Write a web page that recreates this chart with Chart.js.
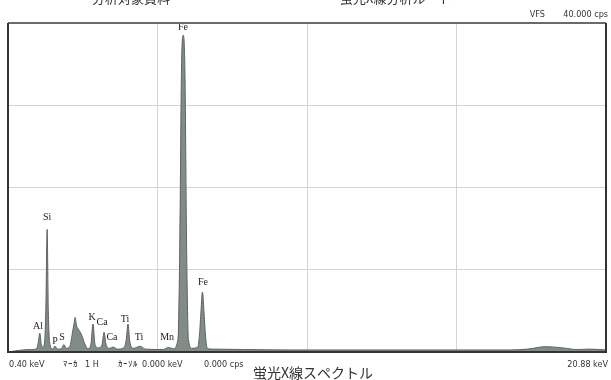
<!DOCTYPE html>
<html>
<head>
<meta charset="utf-8">
<script src="https://cdn.jsdelivr.net/npm/chart.js@4.4.1/dist/chart.umd.min.js"></script>
<style>
    body { margin: 0; background: #ffffff; }
    #spectrum { display: block; }
</style>
</head>
<body>
<canvas id="spectrum" width="611" height="380"></canvas>
<script>
// Spectrum points (energy in keV, intensity in cps)
const energyKev = [
    0.40, 0.90, 1.20, 1.38, 1.44, 1.49, 1.54, 1.60, 1.66, 1.70, 1.74, 1.78, 1.84, 1.92,
    2.01, 2.10, 2.24, 2.31, 2.40, 2.52, 2.60, 2.66, 2.70, 2.74, 2.80, 2.86, 2.94, 3.04, 3.14,
    3.24, 3.31, 3.38, 3.50, 3.62, 3.69, 3.76, 3.88, 4.01, 4.14, 4.36, 4.45, 4.51, 4.57, 4.70,
    4.93, 5.10, 5.70, 5.90, 6.05, 6.22, 6.28, 6.34, 6.40, 6.46, 6.52, 6.58, 6.70, 6.90, 6.96,
    7.01, 7.06, 7.11, 7.16, 7.22, 7.40, 8.50, 10.0, 12.0, 14.0, 16.0, 17.6, 18.2, 18.8, 19.4,
    19.9, 20.3, 20.88
];
const intensityCps = [
    0, 250, 300, 400, 1200, 2300, 900, 600, 1500, 6000, 14900, 5000, 900, 350,
    700, 350, 450, 900, 450, 700, 2200, 3400, 4200, 3300, 2800, 2500, 1900, 900, 400,
    900, 3400, 900, 500, 900, 2400, 900, 450, 600, 350, 500, 1500, 3400, 1300, 450,
    700, 350, 300, 550, 400, 1500, 12000, 34000, 38500, 34000, 12000, 1500, 450, 600, 2200,
    5000, 7300, 5000, 2200, 500, 350, 300, 250, 250, 250, 250, 250, 350, 650, 500,
    300, 350, 250
];

// Element labels and where they sit (text bottom)
const peakNames = ['Fe', 'Si', 'Al', 'P', 'S', 'K', 'Ca', 'Ca', 'Ti', 'Ti', 'Mn', 'Fe'];
const peakKev = [6.39, 1.74, 1.43, 2.01, 2.25, 3.28, 3.62, 3.96, 4.41, 4.89, 5.85, 7.08];
const peakCps = [38900, 15760, 2550, 730, 1210, 3640, 3030, 1210, 3390, 1210, 1210, 7880];

// Axis grid values
const kevTicks = [0.40, 5.52, 10.64, 15.76, 20.88];
const cpsTicks = [0, 10000, 20000, 30000, 40000];

const frameAndText = {
    id: 'frameAndText',
    afterDatasetsDraw(chart) {
        const ctx = chart.ctx;
        const area = chart.chartArea;
        const xs = chart.scales.x;
        const ys = chart.scales.y;

        ctx.save();
        // peak labels
        ctx.fillStyle = '#222222';
        ctx.font = '10px "Liberation Serif", serif';
        ctx.textAlign = 'center';
        ctx.textBaseline = 'bottom';
        peakNames.forEach((name, i) => {
            ctx.fillText(name, xs.getPixelForValue(peakKev[i]), ys.getPixelForValue(peakCps[i]));
        });

        // frame
        ctx.strokeStyle = '#6a6a6a';
        ctx.lineWidth = 2;
        ctx.beginPath();
        ctx.moveTo(area.left, area.top);
        ctx.lineTo(area.right, area.top);
        ctx.stroke();
        ctx.strokeStyle = '#333333';
        ctx.beginPath();
        ctx.moveTo(area.left, area.top);
        ctx.lineTo(area.left, area.bottom);
        ctx.lineTo(area.right, area.bottom);
        ctx.lineTo(area.right, area.top);
        ctx.stroke();

        // header texts (cut off by the page edge)
        ctx.fillStyle = '#333333';
        ctx.textBaseline = 'alphabetic';
        ctx.font = '13px "Noto Sans CJK JP", sans-serif';
        ctx.textAlign = 'left';
        ctx.fillText('分析対象資料', 92, 3);
        ctx.fillText('蛍光X線分析ルート', 340, 3);

        ctx.font = '9px "Liberation Sans Narrow", "DejaVu Sans Condensed", sans-serif';
        ctx.textAlign = 'right';
        ctx.fillText('VFS', 545, 17);
        ctx.fillText('40.000 cps', 608, 17);

        // bottom info line
        const by = area.bottom + 15;
        ctx.textAlign = 'left';
        ctx.fillText('0.40 keV', 9, by);
        ctx.fillText('ﾏｰｶ', 63, by);
        ctx.fillText('1 H', 85, by);
        ctx.fillText('ｶｰｿﾙ', 118, by);
        ctx.fillText('0.000 keV', 142, by);
        ctx.fillText('0.000 cps', 204, by);
        ctx.textAlign = 'right';
        ctx.fillText('20.88 keV', 608, by);

        ctx.textAlign = 'center';
        ctx.font = '14px "Noto Sans CJK JP", sans-serif';
        ctx.fillText('蛍光X線スペクトル', 313, 378);
        ctx.restore();
    }
};

const points = energyKev.map((kev, i) => ({ x: kev, y: intensityCps[i] }));

new Chart(document.getElementById('spectrum'), {
    type: 'line',
    data: {
        datasets: [{
            data: points,
            borderColor: '#5b6460',
            backgroundColor: '#838b87',
            borderWidth: 1,
            pointRadius: 0,
            fill: 'origin',
            cubicInterpolationMode: 'monotone'
        }]
    },
    options: {
        responsive: false,
        animation: false,
        layout: { padding: { left: 8, top: 23, right: 5, bottom: 28 } },
        plugins: {
            legend: { display: false },
            tooltip: { enabled: false }
        },
        scales: {
            x: {
                type: 'linear',
                min: 0.40,
                max: 20.88,
                afterBuildTicks: axis => { axis.ticks = kevTicks.map(v => ({ value: v })); },
                ticks: { display: false },
                grid: { color: '#d4d4d4', drawTicks: false },
                border: { display: false }
            },
            y: {
                min: 0,
                max: 40000,
                afterBuildTicks: axis => { axis.ticks = cpsTicks.map(v => ({ value: v })); },
                ticks: { display: false },
                grid: { color: '#d4d4d4', drawTicks: false },
                border: { display: false }
            }
        }
    },
    plugins: [frameAndText]
});
</script>
</body>
</html>
